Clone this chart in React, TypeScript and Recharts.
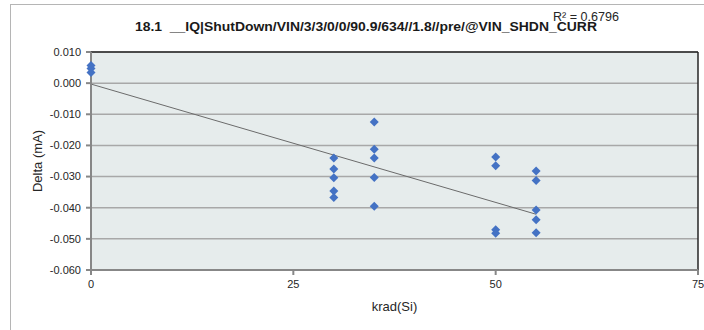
import {
    CartesianGrid,
    ReferenceLine,
    Scatter,
    ScatterChart,
    XAxis,
    YAxis,
} from 'recharts';

// krad(Si) dose for each measured unit
const krad = [
    0, 0, 0,
    30, 30, 30, 30, 30,
    35, 35, 35, 35, 35,
    50, 50, 50, 50,
    55, 55, 55, 55, 55,
];

// Delta (mA)
const delta = [
    0.0057, 0.0047, 0.0034,
    -0.024, -0.0276, -0.0304, -0.0346, -0.0367,
    -0.0125, -0.0212, -0.024, -0.0303, -0.0395,
    -0.0237, -0.0265, -0.0471, -0.0482,
    -0.0282, -0.0313, -0.0407, -0.0439, -0.048,
];

// linear trendline end points (Excel fit)
const trendX = [0, 55];
const trendY = [-0.0003, -0.0421];

const xTicks = [0, 25, 50, 75];
const yTicks = [-0.06, -0.05, -0.04, -0.03, -0.02, -0.01, 0, 0.01];

const TITLE = '18.1  __IQ|ShutDown/VIN/3/3/0/0/90.9/634//1.8//pre/@VIN_SHDN_CURR';
const R2 = 'R² = 0.6796';

const FONT = '"Liberation Sans", Arial, sans-serif';

const points = krad.map((x, i) => ({ x, y: delta[i] }));

// eslint-disable-next-line @typescript-eslint/no-explicit-any
const Diamond = ({ cx, cy }: any) => {
    const r = 4.5;
    return (
        <polygon
            points={`${cx},${cy - r} ${cx + r},${cy} ${cx},${cy + r} ${cx - r},${cy}`}
            fill="#4472C4"
        />
    );
};

const App = () => {
    return (
        <div style={{ position: 'absolute', left: 0, top: 0, width: 704, height: 330, overflow: 'hidden', background: '#fff' }}>
            <div
                style={{
                    position: 'absolute',
                    left: 10,
                    top: 4,
                    width: 720,
                    height: 340,
                    border: '1px solid #b5b5b5',
                }}
            />
            <ScatterChart
                width={704}
                height={330}
                margin={{ top: 52, right: 6, bottom: 20, left: 10 }}
                style={{ position: 'absolute', left: 0, top: 0, fontFamily: FONT }}
            >
                <CartesianGrid
                    vertical={false}
                    fill="#e6ecec"
                    stroke="#a8a8a8"
                    strokeWidth={1.5}
                />
                <XAxis
                    type="number"
                    dataKey="x"
                    domain={[0, 75]}
                    ticks={xTicks}
                    height={40}
                    tickSize={5}
                    tickMargin={5}
                    stroke="#878787"
                    strokeWidth={2}
                    tick={{ fill: '#262626', fontSize: 11 }}
                    label={{
                        value: 'krad(Si)',
                        position: 'center',
                        dy: 16,
                        fill: '#262626',
                        fontSize: 13,
                    }}
                />
                <YAxis
                    type="number"
                    dataKey="y"
                    domain={[-0.06, 0.01]}
                    ticks={yTicks}
                    width={81}
                    tickSize={5}
                    tickMargin={5}
                    stroke="#878787"
                    strokeWidth={2}
                    tick={{ fill: '#262626', fontSize: 11 }}
                    tickFormatter={(v: number) => v.toFixed(3)}
                    label={{
                        value: 'Delta (mA)',
                        angle: -90,
                        position: 'center',
                        dx: -13.5,
                        fill: '#262626',
                        fontSize: 13,
                    }}
                />
                <ReferenceLine y={0.01} stroke="#262626" strokeWidth={1.5} />
                <ReferenceLine x={75} stroke="#262626" strokeWidth={1.5} />
                <ReferenceLine
                    segment={[
                        { x: trendX[0], y: trendY[0] },
                        { x: trendX[1], y: trendY[1] },
                    ]}
                    stroke="#6b6b6b"
                    strokeWidth={1}
                />
                <Scatter
                    data={points}
                    shape={<Diamond />}
                    isAnimationActive={false}
                />
            </ScatterChart>
            <svg
                width={704}
                height={330}
                style={{ position: 'absolute', left: 0, top: 0, pointerEvents: 'none' }}
            >
                <text
                    x={135}
                    y={30.5}
                    fontFamily={FONT}
                    fontWeight="bold"
                    fontSize={13.5}
                    fill="#1a1a1a"
                    textLength={462}
                    lengthAdjust="spacingAndGlyphs"
                    style={{ whiteSpace: 'pre' }}
                >
                    {TITLE}
                </text>
                <text
                    x={553}
                    y={20.5}
                    fontFamily={FONT}
                    fontSize={12}
                    fill="#262626"
                    textLength={66}
                    lengthAdjust="spacingAndGlyphs"
                >
                    {R2}
                </text>
            </svg>
        </div>
    );
};

export default App;
